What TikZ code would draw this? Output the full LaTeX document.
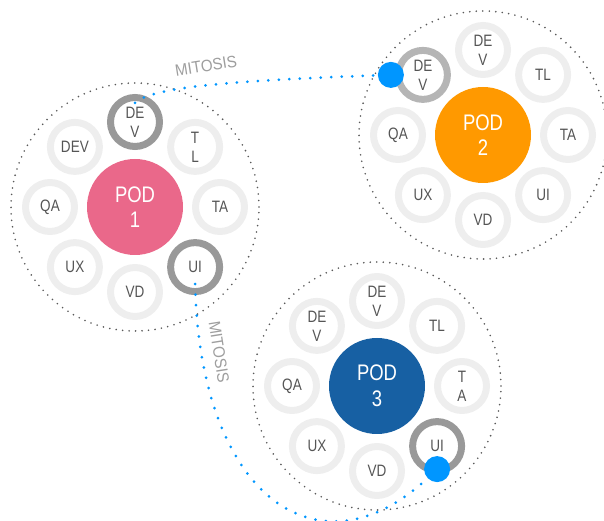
\documentclass[tikz,border=0pt]{standalone}
\usepackage{fontspec}
\setmainfont{Liberation Sans}
\newfontfamily\narrowfont{Liberation Sans}[FakeStretch=0.82]
\newfontfamily\tagfont{Liberation Sans}[FakeStretch=0.92]
\usetikzlibrary{calc}

\definecolor{podpink}{HTML}{EA688A}
\definecolor{podorange}{HTML}{FF9900}
\definecolor{podblue}{HTML}{1760A3}
\definecolor{ringlight}{HTML}{EEEEEE}
\definecolor{ringdark}{HTML}{999999}
\definecolor{ringmid}{HTML}{B5B5B5}
\definecolor{labelgray}{HTML}{555555}
\definecolor{mitosisblue}{HTML}{0096FF}

\tikzset{
  zone/.style={circle, minimum size=248pt, inner sep=0pt, draw=black!65, line width=1.8pt, line cap=round, dash pattern=on 0pt off 6.5pt},
  ring/.style={circle, minimum size=49pt, inner sep=0pt, line width=7pt, draw=ringlight, text=labelgray, align=center, font=\narrowfont\fontsize{16.5}{19}\selectfont},
  core/.style={circle, minimum size=96pt, inner sep=0pt, fill=#1, text=white, align=center, font=\narrowfont\fontsize{22.5}{25.5}\selectfont},
  mitosis/.style={draw=mitosisblue, line width=3pt, line cap=round, dash pattern=on 0pt off 10.5pt},
  blob/.style={circle, fill=mitosisblue, minimum size=26pt, inner sep=0pt},
  mitosistag/.style={text=black!38, font=\tagfont\fontsize{16.5}{18}\selectfont}
}

\begin{document}
\begin{tikzpicture}[x=1pt, y=1pt]
  \useasboundingbox (0,0) rectangle (604,521);

  % pods
  \node[core=podpink]   (p1) at (135,314) {POD\\1};
  \node[core=podorange] (p2) at (483,386) {POD\\2};
  \node[core=podblue]   (p3) at (377,135) {POD\\3};
  \node[zone] (z1) at (p1) {};
  \node[zone] (z2) at (p2) {};
  \node[zone] (z3) at (p3) {};

  % roles round each pod
  \foreach \lab/\rc [count=\i] in {{DE\\V}/ringdark, {T\\L}/ringlight, TA/ringlight, UI/ringdark, VD/ringlight, UX/ringlight, QA/ringlight, DEV/ringlight}
    \node[ring, draw=\rc] (p1r\i) at ($(p1)+({135-45*\i}:85)$) {\lab};
  \foreach \lab/\rc [count=\i] in {{DE\\V}/ringlight, TL/ringlight, TA/ringlight, UI/ringlight, VD/ringlight, UX/ringlight, QA/ringlight, {DE\\V}/ringmid}
    \node[ring, draw=\rc] (p2r\i) at ($(p2)+({135-45*\i}:85)$) {\lab};
  \foreach \lab/\rc [count=\i] in {{DE\\V}/ringlight, TL/ringlight, {T\\A}/ringlight, UI/ringdark, VD/ringlight, UX/ringlight, QA/ringlight, {DE\\V}/ringlight}
    \node[ring, draw=\rc] (p3r\i) at ($(p3)+({135-45*\i}:85)$) {\lab};

  % mitosis
  \coordinate (m1) at ($(p1r1)+(0,19)$);
  \coordinate (m2) at ($(p1r4)+(0,-17)$);
  \node[blob] (d2) at ($(p2r8)+(-32,0)$) {};
  \node[blob] (d3) at ($(p3r4)+(0,-23)$) {};
  \draw[mitosis] (m1) .. controls +(15,15) and +(-170,-6) .. (d2);
  \draw[mitosis] (m2) .. controls +(5,-215) and +(-117,-110) .. (d3);

  \node[mitosistag, rotate=9]   (t1) at (206,455) {MITOSIS};
  \node[mitosistag, rotate=-81] (t2) at (219,169) {MITOSIS};
\end{tikzpicture}
\end{document}
